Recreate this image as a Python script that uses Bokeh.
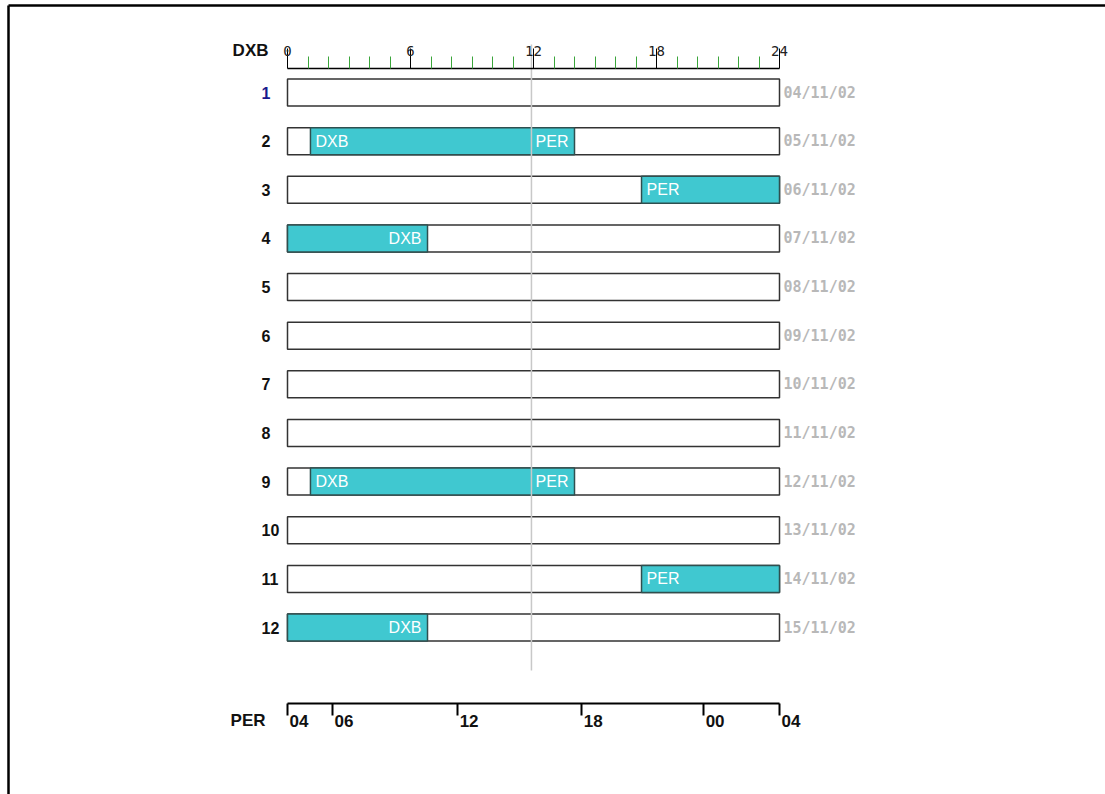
from bokeh.plotting import figure
from bokeh.models import Range1d, LinearAxis, FixedTicker, ColumnDataSource
from bokeh.core.properties import value
from bokeh.embed import file_html
from bokeh.resources import INLINE

# ---------------- data ----------------
rows = [1, 2, 3, 4, 5, 6, 7, 8, 9, 10, 11, 12]
row_labels = ["1", "2", "3", "4", "5", "6", "7", "8", "9", "10", "11", "12"]
dates = ["04/11/02", "05/11/02", "06/11/02", "07/11/02", "08/11/02", "09/11/02",
         "10/11/02", "11/11/02", "12/11/02", "13/11/02", "14/11/02", "15/11/02"]
row_colors = ["#1a1a8c"] + ["#111111"] * 11

seg_rows = [2, 3, 4, 9, 11, 12]
seg_start = [1.12, 17.27, 0.0, 1.12, 17.27, 0.0]
seg_end = [14.0, 24.0, 6.83, 14.0, 24.0, 6.83]
seg_from = ["DXB", "PER", "", "DXB", "PER", ""]
seg_to = ["PER", "", "DXB", "PER", "", "DXB"]

now_hour = 11.9

dxb_ticks = [0, 6, 12, 18, 24]
dxb_minor = [1, 2, 3, 4, 5, 7, 8, 9, 10, 11, 13, 14, 15, 16, 17, 19, 20, 21, 22, 23]
per_tick_pos = [0, 2.2, 8.3, 14.35, 20.3, 24]
per_tick_labels = ["04", "06", "12", "18", "00", "04"]

# ---------------- layout ----------------
W, H = 1105, 794
PX_PER_H = 20.5
X0_PAGE = 287          # page x of hour 0
ROW_PX = 48.64
ROW1_PAGE = 92         # page y of row 1 centre
def xd(page_x):
    return (page_x - X0_PAGE) / PX_PER_H
def yd(page_y):
    return 1 + (page_y - ROW1_PAGE) / ROW_PX

x_range = Range1d(xd(0), xd(W))
y_range = Range1d(yd(H), yd(0))

p = figure(width=W, height=H, x_range=x_range, y_range=y_range,
           output_backend="svg", toolbar_location=None,
           x_axis_location=None, y_axis_location=None,
           min_border=0, min_border_left=0, min_border_right=0,
           min_border_top=0, min_border_bottom=0)
p.outline_line_color = None
p.xgrid.visible = False
p.ygrid.visible = False
p.background_fill_color = "white"
p.border_fill_color = "white"

BAR_H = 27 / ROW_PX

# outer frame border (left and top; right/bottom lie outside the view)
xl = xd(8)
yt = yd(5)
p.segment(x0=[xl, xl], y0=[yt, yt], x1=[x_range.end, xl], y1=[yt, y_range.start],
          line_color="black", line_width=2.5)

# empty day bars
day_src = ColumnDataSource(dict(y=rows, lab=row_labels, date=dates, col=row_colors,
                                left=[0] * len(rows), right=[24] * len(rows)))
p.hbar(y="y", left="left", right="right", height=BAR_H, source=day_src,
       fill_color="white", line_color="#333333", line_width=1.5)

# flight segments
seg_src = ColumnDataSource(dict(y=seg_rows, left=seg_start, right=seg_end))
p.hbar(y="y", left="left", right="right", height=BAR_H, source=seg_src,
       fill_color="#40c8d0", line_color="#2f4f4f", line_width=1.5)

# current-time line
p.segment(x0=[now_hour], y0=[yd(44)], x1=[now_hour], y1=[yd(670)],
          line_color="#c8c8c8", line_width=1.5)

# segment labels
fy = [r for r, s in zip(seg_rows, seg_from) if s]
fx = [x for x, s in zip(seg_start, seg_from) if s]
ft = [s for s in seg_from if s]
p.text(x=fx, y=fy, text=ft, x_offset=5, text_align="left", text_baseline="middle",
       text_color="white", text_font=value("Liberation Sans"), text_font_size="16px")
ty = [r for r, s in zip(seg_rows, seg_to) if s]
tx = [x for x, s in zip(seg_end, seg_to) if s]
tt = [s for s in seg_to if s]
p.text(x=tx, y=ty, text=tt, x_offset=-6, text_align="right", text_baseline="middle",
       text_color="white", text_font=value("Liberation Sans"), text_font_size="16px")

# row numbers
p.text(x=xd(261), y="y", text="lab", source=day_src, text_color="col",
       text_align="left", text_baseline="middle", text_font=value("Liberation Sans"),
       text_font_size="16px", text_font_style="bold")

# dates
p.text(x="right", y="y", text="date", source=day_src, x_offset=4,
       text_color="#b8b8b8", text_align="left", text_baseline="middle",
       text_font=value("DejaVu Sans Mono"), text_font_size="15px", text_font_style="bold")

# axis titles
p.text(x=[0], y=[yd(50)], text=["DXB"], x_offset=-19, text_align="right",
       text_baseline="middle", text_color="#111111", text_font=value("Liberation Sans"),
       text_font_size="17px", text_font_style="bold")
p.text(x=[0], y=[yd(720)], text=["PER"], x_offset=-22, text_align="right",
       text_baseline="middle", text_color="#111111", text_font=value("Liberation Sans"),
       text_font_size="17px", text_font_style="bold")

# PER tick labels (left-aligned just right of each tick)
p.text(x=per_tick_pos, y=[yd(720)] * len(per_tick_pos), text=per_tick_labels,
       x_offset=2, text_align="left", text_baseline="middle", text_color="#111111",
       text_font=value("Liberation Sans"), text_font_size="17px", text_font_style="bold")

# top DXB axis
top = LinearAxis(fixed_location=yd(68),
                 ticker=FixedTicker(ticks=dxb_ticks, minor_ticks=dxb_minor),
                 bounds=(0, 24))
top.axis_line_color = "black"
top.axis_line_width = 1.5
top.major_tick_in = 0
top.major_tick_out = 20
top.major_tick_line_color = "black"
top.major_tick_line_width = 1
top.minor_tick_in = 0
top.minor_tick_out = 12
top.minor_tick_line_color = "#3aa53a"
top.minor_tick_line_width = 1
top.major_label_standoff = -7
top.major_label_text_font = "DejaVu Sans Mono"
top.major_label_text_font_size = "14px"
top.major_label_text_color = "#222222"
p.add_layout(top, "above")

# bottom PER axis (line and ticks; labels drawn as text above)
bot = LinearAxis(fixed_location=yd(703),
                 ticker=FixedTicker(ticks=per_tick_pos, minor_ticks=[]),
                 bounds=(0, 24))
bot.axis_line_color = "black"
bot.axis_line_width = 2
bot.major_tick_in = 0
bot.major_tick_out = 12
bot.major_tick_line_color = "black"
bot.major_tick_line_width = 2
bot.minor_tick_out = 0
bot.minor_tick_in = 0
bot.major_label_text_color = None
bot.major_label_text_font_size = "0px"
p.add_layout(bot, "below")

open("out.html", "w").write(file_html(p, INLINE))
